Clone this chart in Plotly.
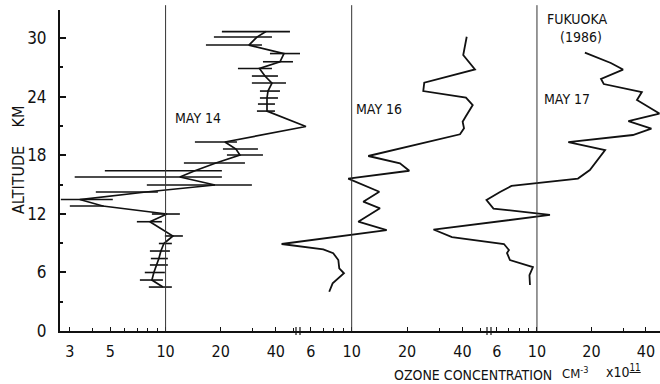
import plotly.graph_objects as go

# ---------------- data (ozone concentration x1e11 cm^-3 vs altitude km) ----------------
alt_may14 = [4.50, 5.22, 5.99, 6.76, 7.42, 8.19, 8.96, 9.73, 11.19, 11.98, 12.80, 13.46,
             14.23, 14.95, 15.77, 16.41, 17.20, 18.02, 18.63, 19.35, 20.94, 22.52, 23.24,
             23.86, 24.57, 25.39, 26.11, 26.88, 27.57, 28.41, 29.28, 30.10, 30.66]
o3_may14 = [9.67, 8.42, 8.63, 8.96, 9.19, 9.43, 9.79, 10.96, 8.21, 10.17, 4.54, 3.40,
            7.81, 18.6, 11.97, 14.46, 18.83, 25.47, 24.22, 21.09, 58.4, 35.79, 35.79,
            35.79, 36.24, 38.09, 34.88, 32.55, 42.13, 44.31, 28.52, 31.54, 35.33]
o3_may14_lo = [8.10, 7.24, 7.70, 8.21, 8.31, 8.21, 9.19, 9.91, 6.97, 8.42, 3.00, 2.68,
               4.16, 7.90, 3.19, 4.66, 12.59, 21.63, 20.57, 14.46, 58.4, 31.54, 31.94,
               32.75, 32.75, 29.6, 29.6, 24.84, 34.02, 37.15, 16.61, 18.36, 20.3]
o3_may14_hi = [10.82, 9.67, 9.91, 10.29, 10.29, 10.56, 10.82, 12.43, 9.55, 11.97, 4.60, 5.15,
               9.08, 29.6, 20.3, 20.3, 27.13, 34.02, 31.94, 24.53, 58.4, 39.56, 39.56,
               41.08, 42.13, 45.44, 41.08, 38.09, 49.61, 54.19, 33.59, 38.09, 47.77]

alt_may16 = [4.02, 4.88, 5.91, 6.42, 7.27, 7.96, 8.36, 8.91, 10.34, 11.19, 12.56, 13.24,
             14.26, 15.61, 16.41, 17.17, 17.92, 20.14, 20.75, 21.43, 21.94, 23.14, 23.89,
             24.57, 25.42, 26.79, 28.26, 30.13]
o3_may16 = [7.55, 7.88, 9.08, 8.56, 8.46, 7.94, 7.01, 4.16, 15.5, 10.86, 14.25, 11.56,
            14.13, 9.58, 20.56, 18.3, 12.31, 38.8, 40.8, 40.1, 41.6, 45.5, 41.8,
            24.5, 24.8, 46.8, 40.4, 42.2]

alt_may17 = [4.71, 5.73, 6.55, 7.27, 7.99, 8.29, 8.91, 9.62, 10.39, 11.88, 12.54, 13.41,
             14.23, 14.85, 15.61, 16.48, 18.53, 19.35, 20.07, 20.73, 21.50, 22.27, 23.65,
             24.47, 25.29, 25.80, 26.77, 27.44, 28.51]
o3_may17 = [9.15, 9.09, 9.50, 7.09, 6.83, 7.00, 6.57, 3.39, 2.68, 11.8, 5.75, 5.26,
            6.25, 7.23, 16.85, 19.6, 23.8, 14.9, 33.9, 42.9, 32.0, 47.5, 35.7,
            38.0, 23.4, 22.6, 29.9, 25.6, 18.4]

y_ticks = [0, 6, 12, 18, 24, 30]
y_minor = [3, 9, 15, 21, 27]
x1_ticks = [3, 5, 10, 20, 40]
x1_minor = [4, 6, 7, 8, 9, 30, 50]
x2_ticks = [6, 10, 20, 40]
x2_minor = [7, 8, 9, 30, 50]
x3_ticks = [6, 10, 20, 40]
x3_minor = [7, 8, 9, 30]
ref_value = 10

FONT = "Liberation Sans Narrow, DejaVu Sans Condensed, Arial Narrow, sans-serif"
INK = "#111111"

plus14 = [h - v for h, v in zip(o3_may14_hi, o3_may14)]
minus14 = [v - l for v, l in zip(o3_may14, o3_may14_lo)]

fig = go.Figure()
fig.add_trace(go.Scatter(
    x=o3_may14, y=alt_may14, mode="lines", xaxis="x", yaxis="y",
    line=dict(color=INK, width=1.7),
    error_x=dict(type="data", symmetric=False, array=plus14, arrayminus=minus14,
                 width=0, thickness=1.6, color=INK),
    showlegend=False))
fig.add_trace(go.Scatter(
    x=o3_may16, y=alt_may16, mode="lines", xaxis="x2", yaxis="y",
    line=dict(color=INK, width=1.8), showlegend=False))
fig.add_trace(go.Scatter(
    x=o3_may17, y=alt_may17, mode="lines", xaxis="x3", yaxis="y",
    line=dict(color=INK, width=1.8), showlegend=False))

W, H = 660, 384
ML, MR, MT, MB = 60, 0, 10, 53
PW, PH = W - ML - MR, H - MT - MB


def px_x(p):
    return (p - ML) / PW


def px_y(p):
    return (H - MB - p) / PH


common_x = dict(type="log", showline=True, linecolor=INK, linewidth=2,
                ticks="inside", ticklen=4, tickwidth=1, tickcolor=INK,
                showgrid=False, zeroline=False, anchor="y",
                tickfont=dict(family=FONT, size=16, color=INK),
                ticklabelstandoff=5)

fig.update_layout(
    width=W, height=H,
    margin=dict(l=ML, r=MR, t=MT, b=MB),
    paper_bgcolor="white", plot_bgcolor="rgba(0,0,0,0)",
    xaxis=dict(domain=[0, px_x(312)], range=[0.4235, 1.7995],
               tickvals=x1_ticks, ticktext=[str(v) for v in x1_ticks],
               minor=dict(tickvals=x1_minor, ticks="inside", ticklen=3, tickcolor=INK),
               **common_x),
    xaxis2=dict(domain=[px_x(278), px_x(488)], range=[0.5995, 1.741],
                tickvals=x2_ticks, ticktext=[str(v) for v in x2_ticks],
                minor=dict(tickvals=x2_minor, ticks="inside", ticklen=3, tickcolor=INK),
                **common_x),
    xaxis3=dict(domain=[px_x(428), 1], range=[0.3978, 1.680],
                tickvals=x3_ticks, ticktext=[str(v) for v in x3_ticks],
                minor=dict(tickvals=x3_minor, ticks="inside", ticklen=3, tickcolor=INK),
                **common_x),
    yaxis=dict(range=[0, 32.87], tickvals=y_ticks, showline=True, linecolor=INK,
               linewidth=2, ticks="inside", ticklen=6, tickwidth=1.5, tickcolor=INK,
               showgrid=False, zeroline=False, anchor="x",
               tickfont=dict(family=FONT, size=17, color=INK), ticklabelstandoff=8,
               minor=dict(tickvals=y_minor, ticks="inside", ticklen=3, tickcolor=INK)),
)

# vertical reference lines at 10 in each panel
for xr in ["x", "x2", "x3"]:
    fig.add_shape(type="line", xref=xr, yref="paper", x0=ref_value, x1=ref_value,
                  y0=0, y1=1.015, line=dict(color="#333333", width=1))

# axis break marks
for bx in [296, 300, 487, 491]:
    fig.add_shape(type="line", xref="paper", yref="paper",
                  x0=px_x(bx), x1=px_x(bx), y0=px_y(335), y1=px_y(327),
                  line=dict(color=INK, width=1.2))


def label(text, px, py, size=14, xanchor="left", yanchor="middle", angle=0):
    fig.add_annotation(text=text, xref="paper", yref="paper", x=px_x(px), y=px_y(py),
                       xanchor=xanchor, yanchor=yanchor, showarrow=False, textangle=angle,
                       font=dict(family=FONT, size=size, color=INK))


label("MAY 14", 173, 117.5)
label("MAY 16", 354, 109)
label("MAY 17", 542, 99.5)
label("FUKUOKA", 577, 19, xanchor="center")
label("(1986)", 581, 37.5, xanchor="center")
label("ALTITUDE\u00a0\u00a0\u00a0\u00a0KM", 18, 160, size=16, xanchor="center", angle=-90)
label("OZONE CONCENTRATION", 473, 375, size=14, xanchor="center")
label("CM<sup>-3</sup>", 560, 373, size=13)
label("x10<sup><u>11</u></sup>", 604, 371, size=14)

fig.write_html("out.html")
